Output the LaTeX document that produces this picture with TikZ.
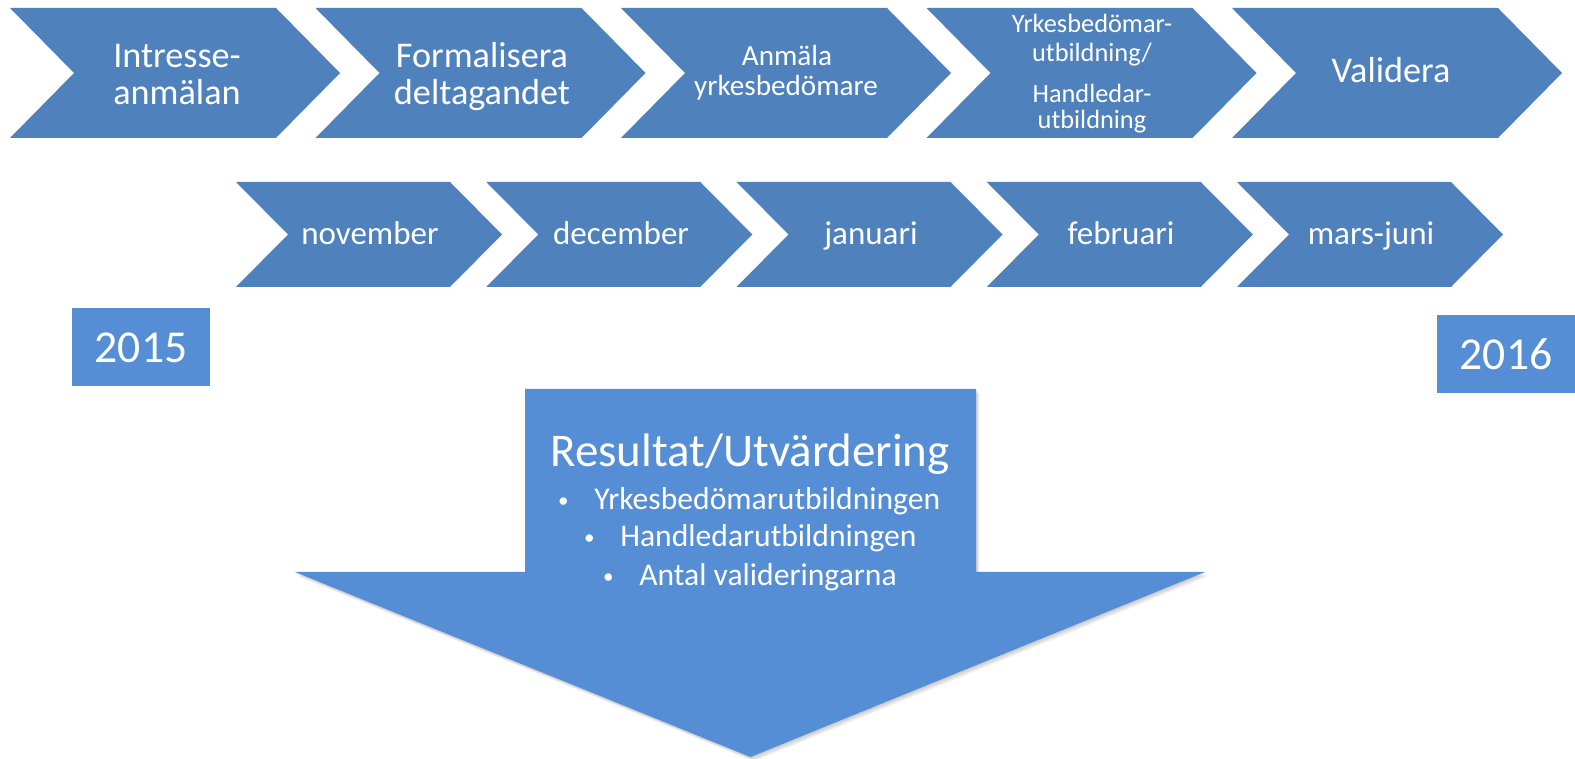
\documentclass[tikz,border=0pt]{standalone}
\usepackage{fontspec}
\setmainfont{Carlito}
\definecolor{chevblue}{HTML}{4F81BD}
\definecolor{arrowblue}{HTML}{558ED5}
\tikzset{
  chevshape/.style={fill=chevblue, draw=none},
  lightshape/.style={fill=arrowblue, draw=none},
  lbl/.style={text=white, inner sep=0pt, anchor=base},
  bigtxt/.style={lbl, font=\fontsize{20.6}{24}\selectfont},
  midtxt/.style={lbl, font=\fontsize{16.6}{20}\selectfont},
  smtxt/.style={lbl, font=\fontsize{15}{18}\selectfont},
  monthtxt/.style={lbl, font=\fontsize{18.8}{22}\selectfont},
  yeartxt/.style={lbl, font=\fontsize{26}{30}\selectfont},
  titletxt/.style={lbl, font=\fontsize{26.7}{31}\selectfont},
  bullettxt/.style={text=white, inner sep=0pt, anchor=base west, font=\fontsize{18}{22}\selectfont},
}
\newcommand{\bul}{\llap{\makebox[0pt][c]{\raisebox{1.6pt}{\fontsize{12}{12}\selectfont •}}\hspace{17.6pt}}}
\begin{document}
\begin{tikzpicture}[x=0.02cm,y=-0.02cm]
\useasboundingbox (0,0) rectangle (1575,759);

% top row of chevrons
\foreach \i in {0,...,4}{
  \pgfmathsetmacro\L{10+305.5*\i}
  \fill[chevshape] (\L,8) -- ({\L+266},8) -- ({\L+330},73) -- ({\L+266},138)
        -- (\L,138) -- ({\L+64},73) -- cycle;
}
% second row of chevrons
\foreach \i in {0,...,4}{
  \pgfmathsetmacro\L{236+250.25*\i}
  \fill[chevshape] (\L,182) -- ({\L+214},182) -- ({\L+266},234.5) -- ({\L+214},287)
        -- (\L,287) -- ({\L+52},234.5) -- cycle;
}

% top row texts
\node[bigtxt] (t1a) at (177,68) {Intresse-};
\node[bigtxt] (t1b) at (177,105) {anmälan};
\node[bigtxt] (t2a) at (482,68) {Formalisera};
\node[bigtxt] (t2b) at (482,105) {deltagandet};
\node[midtxt] (t3a) at (787,66) {Anmäla};
\node[midtxt] (t3b) at (786,96) {yrkesbedömare};
\node[smtxt] (t4a) at (1092,33) {Yrkesbedömar-};
\node[smtxt] (t4b) at (1092,62) {utbildning/};
\node[smtxt] (t4c) at (1092,103) {Handledar-};
\node[smtxt] (t4d) at (1092,129) {utbildning};
\node[bigtxt] (t5) at (1391,83) {Validera};

% month texts
\node[monthtxt] (m1) at (370,245) {november};
\node[monthtxt] (m2) at (621,245) {december};
\node[monthtxt] (m3) at (871,245) {januari};
\node[monthtxt] (m4) at (1121,245) {februari};
\node[monthtxt] (m5) at (1371,245) {mars-juni};

% year boxes
\fill[lightshape] (72,308) rectangle (210,386);
\node[yeartxt] (y1) at (141,363) {2015};
\fill[lightshape] (1437,315) rectangle (1575,393);
\node[yeartxt] (y2) at (1506,370) {2016};

% big down arrow with soft shadow
\foreach \k in {1,...,5}{
  \begin{scope}[shift={({0.7*\k},{0.9*\k})}]
    \fill[black, opacity=0.045] (525,389) -- (976,389) -- (976,572) -- (1205,572)
          -- (750.5,757) -- (295,572) -- (525,572) -- cycle;
  \end{scope}
}
\fill[lightshape] (525,389) -- (976,389) -- (976,572) -- (1205,572)
      -- (750.5,757) -- (295,572) -- (525,572) -- cycle;

\node[titletxt] (res) at (750,467) {Resultat/Utvärdering};
\node[bullettxt] (b1) at (594,510) {\bul Yrkesbedömarutbildningen};
\node[bullettxt] (b2) at (620,547) {\bul Handledarutbildningen};
\node[bullettxt] (b3) at (639,586) {\bul Antal valideringarna};
\end{tikzpicture}
\end{document}
